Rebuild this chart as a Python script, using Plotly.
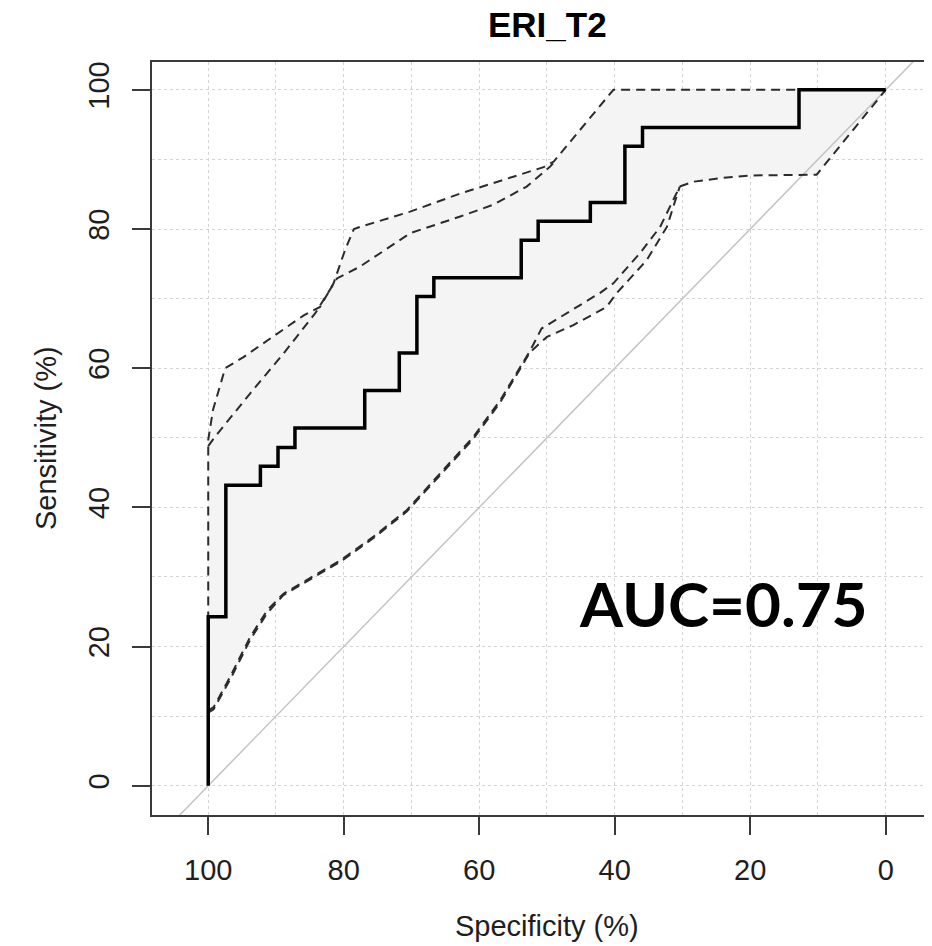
import plotly.graph_objects as go

# ---------------- data ----------------
title_text = "ERI_T2"
x_title = "Specificity (%)"
y_title = "Sensitivity (%)"
auc_text = "AUC=0.75"

tick_vals = [0, 20, 40, 60, 80, 100]
tick_text = ["0", "20", "40", "60", "80", "100"]

# ROC step curve corners (specificity %, sensitivity %)
roc_spec = [100, 97.4, 92.3, 89.7, 87.2, 76.9, 71.8, 69.2, 66.7, 53.8, 51.3, 43.6, 38.5, 35.9, 12.8, 0]
roc_sens = [0, 24.3, 43.2, 45.9, 48.6, 51.4, 56.8, 62.2, 70.3, 73.0, 78.4, 81.1, 83.8, 91.9, 94.6, 100]

# confidence band 1 (upper / lower)
hi1_spec = [100, 100, 99.3, 97.5, 94.8, 91.3, 85.9, 83.5, 81.5, 79.8, 78.5, 77.6, 70.2, 62.8, 56.4, 50.5, 49.0, 40.2, 0]
hi1_sens = [10.8, 49.7, 54.0, 60.0, 61.6, 64.0, 67.6, 68.8, 72.2, 77.0, 80.0, 80.3, 82.5, 85.1, 87.1, 88.9, 89.7, 100, 100]
lo1_spec = [100, 99.2, 96.8, 93.8, 91.3, 88.9, 80.5, 75.6, 70.7, 65.8, 60.9, 56.9, 52.5, 50.8, 47.1, 42.2, 40.2, 36.3, 33.3, 30.4, 28.4, 24.5, 20.0, 10.2, 0]
lo1_sens = [10.8, 11.3, 15.6, 21.4, 25.2, 27.6, 32.4, 35.8, 39.6, 44.9, 50.1, 55.4, 62.5, 65.7, 67.9, 70.8, 72.2, 76.5, 80.3, 86.1, 86.8, 87.3, 87.7, 87.8, 100]

# confidence band 2 (upper / lower), each up to where it joins band 1
hi2_spec = [100, 99.2, 93.8, 88.9, 84.2, 81.0, 77.6, 70.2, 62.8, 57.9, 53.0, 49.5, 48.8]
hi2_sens = [48.8, 49.9, 56.4, 62.1, 67.9, 72.9, 74.6, 79.4, 81.8, 83.5, 86.1, 89.0, 89.8]
lo2_spec = [100, 99.2, 96.8, 93.8, 91.3, 88.9, 80.5, 75.6, 70.7, 65.8, 60.9, 56.9, 52.5, 50.0, 46.1, 41.2, 39.7, 35.3, 32.3, 30.4]
lo2_sens = [10.5, 11.0, 15.2, 21.0, 24.8, 27.4, 32.2, 35.6, 39.4, 44.6, 49.8, 55.1, 62.3, 64.5, 66.2, 68.8, 70.8, 75.5, 80.3, 86.1]

# chance diagonal (sensitivity = 100 - specificity), extended past the frame
diag_spec = [115, -15]
diag_sens = [-15, 115]

# ---------------- styles ----------------
FONT = "Liberation Sans, Arial, sans-serif"
AXIS_COL = "#3a3a3a"
TEXT_COL = "#1e1e1e"
GRID_COL = "#d4d4d4"
FILL_COL = "#f4f4f4"
DASH_COL = "#2b2b2b"
DASH = "9px,6px"

fig = go.Figure()

# filled confidence bands (union of both)
for hs, hv, ls, lv in [(hi1_spec, hi1_sens, lo1_spec, lo1_sens),
                       (hi2_spec, hi2_sens, lo2_spec, lo2_sens)]:
    fig.add_trace(go.Scatter(
        x=hs + ls[::-1], y=hv + lv[::-1],
        mode="lines", fill="toself", fillcolor=FILL_COL,
        line=dict(width=0, color=FILL_COL), hoverinfo="skip", showlegend=False))

# chance diagonal
fig.add_trace(go.Scatter(x=diag_spec, y=diag_sens, mode="lines",
                         line=dict(color="#c4c4c4", width=1.5),
                         hoverinfo="skip", showlegend=False))

# dashed confidence bounds
for xs, ys in [(hi1_spec, hi1_sens), (hi2_spec, hi2_sens),
               (lo1_spec, lo1_sens), (lo2_spec, lo2_sens)]:
    fig.add_trace(go.Scatter(x=xs, y=ys, mode="lines",
                             line=dict(color=DASH_COL, width=2, dash=DASH),
                             showlegend=False))

# ROC curve
fig.add_trace(go.Scatter(x=roc_spec, y=roc_sens, mode="lines",
                         line=dict(color="black", width=3.5, shape="vh"),
                         showlegend=False))

# the page adds an 8px body margin, so the figure is sized to fit inside it
OFF = 8
W, H = 924, 938
ML, MR, MT, MB = 144, 0, 54, 131
PW, PH = W - ML - MR, H - MT - MB


def px_x(p):
    return (p - OFF - ML) / PW


def px_y(p):
    return (H - MB - (p - OFF)) / PH


axis_common = dict(
    showline=True, linecolor=AXIS_COL, linewidth=2,
    ticks="outside", ticklen=18, tickwidth=2, tickcolor=AXIS_COL,
    tickvals=tick_vals, ticktext=tick_text,
    tickfont=dict(family=FONT, size=29, color=TEXT_COL),
    showgrid=True, gridcolor=GRID_COL, gridwidth=1, griddash="3px,3px",
    minor=dict(dtick=10, tick0=0, showgrid=True, gridcolor=GRID_COL,
               gridwidth=1, griddash="3px,3px", ticks=""),
    zeroline=False, fixedrange=True,
)

fig.update_layout(
    width=W, height=H, autosize=False,
    margin=dict(l=ML, r=MR, t=MT, b=MB, pad=0),
    paper_bgcolor="white", plot_bgcolor="white",
    showlegend=False,
    xaxis=dict(range=[108.3, -6.83], mirror=True, ticklabelstandoff=10, **axis_common),
    yaxis=dict(range=[-4.2, 104.0], mirror=False, tickangle=-90, ticklabelstandoff=11, **axis_common),
    annotations=[
        dict(text="<b>" + title_text + "</b>", xref="paper", yref="paper",
             x=px_x(547), y=px_y(24), xanchor="center", yanchor="middle",
             showarrow=False, font=dict(family=FONT, size=35, color="black")),
        dict(text=x_title, xref="paper", yref="paper",
             x=px_x(547), y=px_y(926), xanchor="center", yanchor="middle",
             showarrow=False, font=dict(family=FONT, size=29, color=TEXT_COL)),
        dict(text=y_title, xref="paper", yref="paper", textangle=-90,
             x=px_x(46), y=px_y(438), xanchor="center", yanchor="middle",
             showarrow=False, font=dict(family=FONT, size=29, color=TEXT_COL)),
        dict(text="<b>" + auc_text + "</b>", xref="paper", yref="paper",
             x=px_x(723.5), y=px_y(603), xanchor="center", yanchor="middle",
             showarrow=False, font=dict(family="Lato, Carlito, sans-serif", size=62, color="black")),
    ],
)

fig.write_html("out.html")
